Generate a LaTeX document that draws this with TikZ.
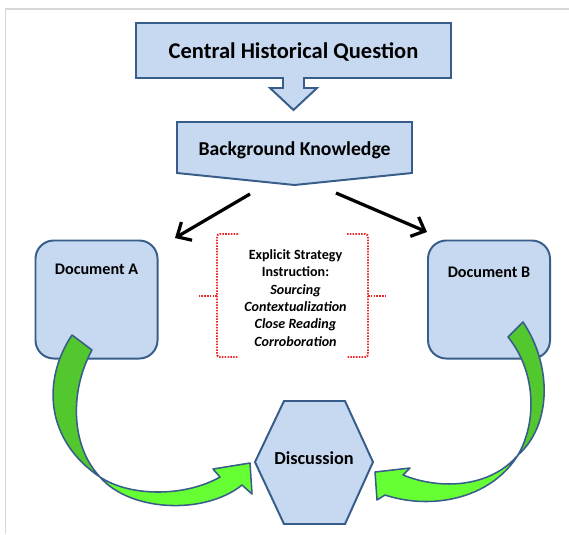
\documentclass[tikz,border=0pt]{standalone}
\usepackage{fontspec}
\setmainfont{Carlito}
\usetikzlibrary{arrows.meta}

\definecolor{boxfill}{RGB}{198,217,240}
\definecolor{boxline}{RGB}{56,93,138}
\definecolor{darkgreen}{RGB}{82,199,46}
\definecolor{limegreen}{RGB}{102,255,51}
\definecolor{framegray}{RGB}{215,215,215}
\definecolor{bracered}{RGB}{240,40,40}

\def\px{0.025cm}
\def\midx{292.5}

\begin{document}
\begin{tikzpicture}[x=\px,y=-\px,
  shapebox/.style={draw=boxline,fill=boxfill,line width=1.4pt},
  docbox/.style={shapebox,rounded corners=13pt,minimum width=3.05cm,minimum height=2.95cm},
  ribbon/.style={draw=boxline,line width=1.1pt,line join=round},
  kbarrow/.style={line width=2.3pt,-{Straight Barb[length=8pt,width=15pt]}},
  brace/.style={bracered,line width=1.4pt,dash pattern=on 1.1pt off 0.9pt,rounded corners=2pt}]
 % Frame
 \useasboundingbox (0,0) rectangle (569,534);
 \draw[framegray,line width=0.8pt] (5.5,534) -- (5.5,9) -- (569,9);
 % Question with arrow
 \draw[shapebox] (136,23) -- (451,23) -- (451,78) -- (304,78) -- (304,88)
  -- (317,88) -- (293.5,110) -- (270,88) -- (283,88) -- (283,78) -- (136,78) -- cycle;
 \node[font=\bfseries\fontsize{16}{19}\selectfont] (chq) at (293.5,52) {Central Historical Question};
 % Background knowledge
 \draw[shapebox] (177,122) -- (412,122) -- (412,173) -- (294.5,185) -- (177,173) -- cycle;
 \node[font=\bfseries\fontsize{14}{17}\selectfont] (bk) at (294.5,150) {Background Knowledge};
 % Arrows to documents
 \coordinate (bkL) at (250,194);
 \coordinate (bkR) at (336,193);
 \coordinate (docAin) at (175,238);
 \coordinate (docBin) at (427,232);
 \draw[kbarrow] (bkL) -- (docAin);
 \draw[kbarrow] (bkR) -- (docBin);
 % Documents
 \node[docbox] (docA) at (96.5,299.5) {};
 \node[docbox] (docB) at (489,299.5) {};
 \node[font=\bfseries\fontsize{11.5}{14}\selectfont] (docAlbl) at (96.5,269) {Document A};
 \node[font=\bfseries\fontsize{11.5}{14}\selectfont] (docBlbl) at (489,272) {Document B};
 % Strategy instruction
 \foreach \s in {-1,1} {
  \draw[brace] (\midx+\s*54.5,234) -- (\midx+\s*75.5,234) -- (\midx+\s*75.5,357) -- (\midx+\s*54.5,357);
  \draw[brace] (\midx+\s*75.5,296) -- (\midx+\s*95,296);
 }
 \node[font=\bfseries\fontsize{10}{12.3}\selectfont,align=center] (esi) at (295.5,298)
  {Explicit Strategy\\Instruction:\\\textit{Sourcing}\\\textit{Contextualization}\\\textit{Close Reading}\\\textit{Corroboration}};
 % Discussion
 \draw[shapebox] (255,462) -- (284,401) -- (345,401) -- (373,462) -- (345,524) -- (284,524) -- cycle;
 \node[font=\bfseries\fontsize{13}{16}\selectfont] (disc) at (314,458) {Discussion};
 % Curved arrows
 \coordinate (pinchA) at (100,477);
 \coordinate (pinchB) at (518,455);
 \filldraw[ribbon,fill=darkgreen] (72,335) -- (92,350) .. controls (70,390) and (70,445) .. (pinchA)
  .. controls (45,440) and (42,380) .. (72,335) -- cycle;
 \filldraw[ribbon,fill=limegreen] (pinchA) .. controls (130,512) and (205,515) .. (242,485)
  -- (252,494) -- (250,463) -- (213,469) -- (220,477) .. controls (185,497) and (130,497) .. (pinchA) -- cycle;
 \filldraw[ribbon,fill=darkgreen] (523,322) .. controls (552,365) and (552,425) .. (pinchB)
  .. controls (538,420) and (535,370) .. (508,337) -- cycle;
 \filldraw[ribbon,fill=limegreen] (pinchB) .. controls (490,500) and (430,510) .. (385,495)
  -- (377,500) -- (375,472) -- (410,468) -- (403,475) .. controls (440,490) and (490,488) .. (pinchB) -- cycle;
\end{tikzpicture}
\end{document}
